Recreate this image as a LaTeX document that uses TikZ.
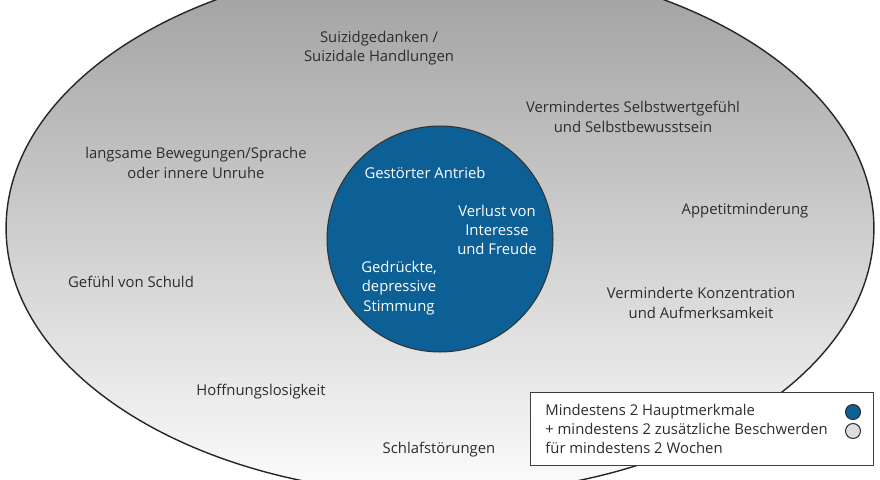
\documentclass[tikz,border=0pt]{standalone}
\usepackage{fontspec}
\setmainfont{Open Sans}
\definecolor{kernblau}{RGB}{12,96,150}
\definecolor{textgrau}{RGB}{45,45,45}
\definecolor{punktgrau}{RGB}{222,222,222}
\tikzset{
    merkmal/.style={align=center, text=textgrau, font=\fontsize{8.45}{11}\selectfont, inner sep=0pt},
    hauptmerkmal/.style={merkmal, text=white},
    punkt/.style={circle, draw=textgrau, line width=0.6pt, minimum size=0.3cm, inner sep=0pt}
}
\begin{document}
\begin{tikzpicture}[x=0.02cm, y=-0.02cm]
    \useasboundingbox (0,0) rectangle (880,480);
    \clip (0,0) rectangle (880,480);
    % outer ellipse: additional symptoms
    \draw[top color=black!38, bottom color=black!1, draw=black!85, line width=0.8pt]
        (440,228) ellipse [x radius=8.68cm, y radius=5.33cm];
    % core: main symptoms
    \node[circle, fill=kernblau, draw=black!80, line width=0.6pt, minimum size=4.52cm] (kern) at (440,239) {};
    \node[hauptmerkmal] (antrieb) at (425,173) {Gestörter Antrieb};
    \node[hauptmerkmal] (interesse) at (497,230) {Verlust von\\Interesse\\und Freude};
    \node[hauptmerkmal] (stimmung) at (399,288) {Gedrückte,\\depressive\\Stimmung};
    % additional symptoms
    \node[merkmal] (suizid) at (379,48) {Suizidgedanken /\\Suizidale Handlungen};
    \node[merkmal] (selbstwert) at (633,117) {Vermindertes Selbstwertgefühl\\und Selbstbewusstsein};
    \node[merkmal] (bewegung) at (196,163) {langsame Bewegungen/Sprache\\oder innere Unruhe};
    \node[merkmal] (appetit) at (745,211) {Appetitminderung};
    \node[merkmal] (schuld) at (131,282) {Gefühl von Schuld};
    \node[merkmal] (konzentration) at (701,303) {Verminderte Konzentration\\und Aufmerksamkeit};
    \node[merkmal] (hoffnung) at (261,392) {Hoffnungslosigkeit};
    \node[merkmal] (schlaf) at (439,450) {Schlafstörungen};
    % legend
    \node[draw=black!75, fill=white, line width=0.7pt, anchor=north west, minimum width=6.86cm, minimum height=1.46cm] (legende) at (530,392) {};
    \node[merkmal, align=left, anchor=west] (legtext) at (545,429) {Mindestens 2 Hauptmerkmale\\+ mindestens 2 zusätzliche Beschwerden\\für mindestens 2 Wochen};
    \node[punkt, fill=kernblau] (punktkern) at (853,412) {};
    \node[punkt, fill=punktgrau] (punktrand) at (853,431) {};
\end{tikzpicture}
\end{document}
